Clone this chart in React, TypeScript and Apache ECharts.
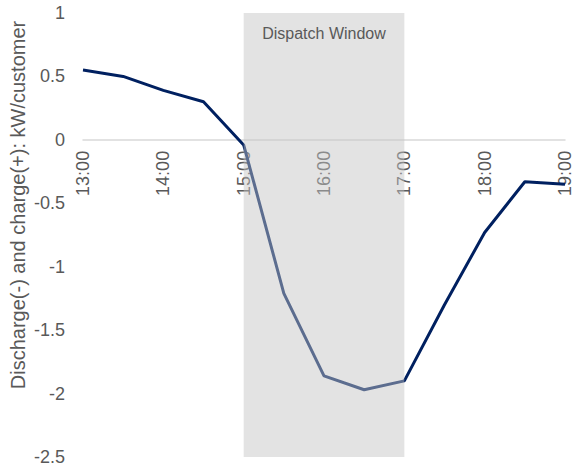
import React, { useEffect, useRef } from "react";
import * as echarts from "echarts";

const times = ["13:00", "13:30", "14:00", "14:30", "15:00", "15:30", "16:00", "16:30", "17:00", "17:30", "18:00", "18:30", "19:00"];
const values = [0.55, 0.5, 0.39, 0.3, -0.04, -1.21, -1.86, -1.97, -1.9, -1.3, -0.73, -0.33, -0.35];
const windowStart = "15:00";
const windowEnd = "17:00";
const windowLabel = "Dispatch Window";
const yTitle = "Discharge(-) and charge(+): kW/customer";
const yMin = -2.5;
const yMax = 1;

export default function App() {
  const ref = useRef<HTMLDivElement>(null);
  useEffect(() => {
    if (!ref.current) return;
    const chart = echarts.init(ref.current, undefined, { renderer: "svg" });
    const font = "'Liberation Sans', Arial, sans-serif";
    const gridTop = 13;
    const gridBottom = 11;
    const plotH = 468 - gridTop - gridBottom;
    const zeroOffset = ((0 - yMin) / (yMax - yMin)) * plotH;
    chart.setOption({
      animation: false,
      backgroundColor: "#ffffff",
      grid: { left: 83, right: 8, top: gridTop, bottom: gridBottom, outerBoundsMode: "none", containLabel: false },
      xAxis: {
        type: "category",
        data: times,
        boundaryGap: false,
        position: "bottom",
        offset: -zeroOffset,
        axisLine: { onZero: false, lineStyle: { color: "#d9d9d9", width: 1.5 } },
        axisTick: { show: false },
        axisLabel: {
          interval: 1,
          rotate: 90,
          margin: 11,
          color: "#595959",
          fontSize: 18,
          fontFamily: font,
        },
        splitLine: { show: false },
      },
      yAxis: {
        type: "value",
        min: yMin,
        max: yMax,
        interval: 0.5,
        axisLine: { show: false },
        axisTick: { show: false },
        splitLine: { show: false },
        axisLabel: { color: "#595959", fontSize: 18, fontFamily: font, margin: 18 },
      },
      graphic: [
        {
          type: "text",
          x: 18,
          y: 205,
          rotation: Math.PI / 2,
          style: {
            text: yTitle,
            fill: "#595959",
            fontSize: 20,
            fontFamily: font,
            textAlign: "center",
            textVerticalAlign: "middle",
          },
        },
      ],
      series: [
        {
          type: "line",
          data: values,
          symbol: "none",
          z: 2,
          lineStyle: { color: "#002060", width: 3 },
        },
        {
          type: "custom",
          z: 10,
          silent: true,
          data: [[times.indexOf(windowStart), times.indexOf(windowEnd)]],
          encode: { x: [0, 1] },
          renderItem: (params: any, api: any) => {
            const cs = params.coordSys;
            const x0 = api.coord([api.value(0), 0])[0];
            const x1 = api.coord([api.value(1), 0])[0];
            return {
              type: "group",
              children: [
                {
                  type: "rect",
                  shape: { x: x0, y: cs.y, width: x1 - x0, height: cs.height },
                  style: { fill: "rgba(195,195,195,0.47)" },
                },
                {
                  type: "text",
                  x: (x0 + x1) / 2,
                  y: cs.y + 12,
                  style: {
                    text: windowLabel,
                    fill: "#595959",
                    fontSize: 16,
                    fontFamily: font,
                    textAlign: "center",
                    textVerticalAlign: "top",
                  },
                },
              ],
            };
          },
        },
      ],
    });
    return () => chart.dispose();
  }, []);
  return <div ref={ref} style={{ width: 573, height: 468, position: "absolute", left: 0, top: 0 }} />;
}
